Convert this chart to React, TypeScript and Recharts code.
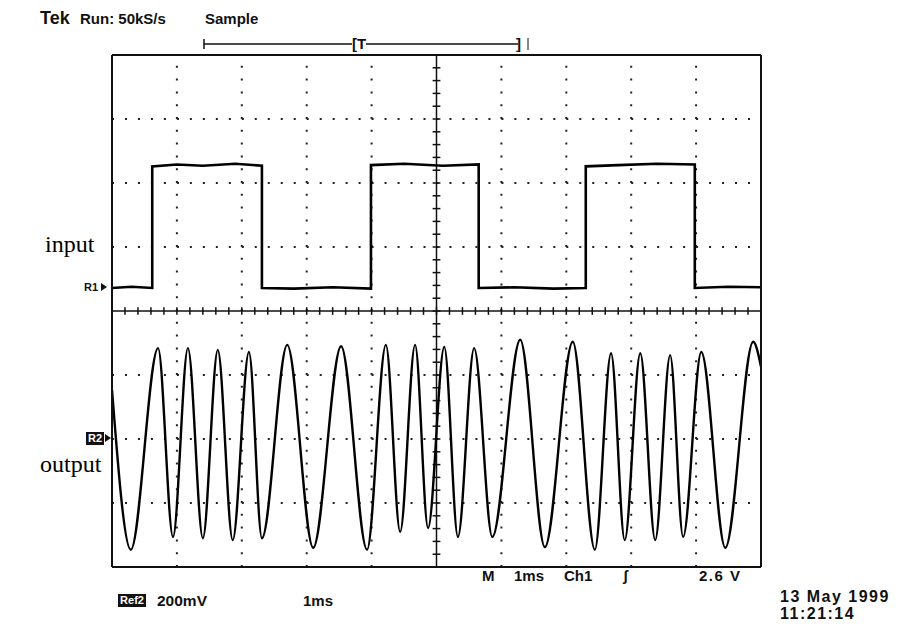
import React from 'react';
import { LineChart, Line, XAxis, YAxis, ReferenceLine } from 'recharts';

// screen: 10 horizontal divisions (1 ms each), 8 vertical divisions
const X_DIVS = [1, 2, 3, 4, 6, 7, 8, 9];
const Y_DIVS = [1, 2, 3, 5, 6, 7];
const MINOR_X = Array.from({ length: 51 }, (_, i) => Math.round(i * 20) / 100);
const MINOR_Y = Array.from({ length: 41 }, (_, i) => Math.round(i * 20) / 100);

// input (R1): square wave, time in ms / level in divisions
const INPUT_TIME = [0, 0.3, 0.62, 0.62, 1.0, 1.4, 1.9, 2.31, 2.31, 2.8, 3.4, 3.99, 3.99, 4.5, 5.1, 5.65, 5.65, 6.2, 6.8, 7.3, 7.3, 7.8, 8.4, 8.98, 8.98, 9.5, 10];
const INPUT_LEVEL = [4.36, 4.38, 4.36, 6.26, 6.29, 6.27, 6.3, 6.27, 4.36, 4.35, 4.37, 4.35, 6.28, 6.3, 6.27, 6.29, 4.36, 4.37, 4.35, 4.36, 6.26, 6.28, 6.3, 6.29, 4.36, 4.38, 4.37];

// output (R2): FSK waveform, peaks and troughs
const OUTPUT_TIME = [0, 0.29, 0.71, 0.94, 1.17, 1.4, 1.63, 1.86, 2.11, 2.31, 2.7, 3.1, 3.53, 3.93, 4.22, 4.44, 4.67, 4.87, 5.12, 5.33, 5.58, 5.86, 6.29, 6.67, 7.1, 7.44, 7.69, 7.9, 8.14, 8.37, 8.6, 8.8, 9.08, 9.45, 9.88, 10];
const OUTPUT_LEVEL = [2.77, 0.27, 3.42, 0.47, 3.42, 0.45, 3.39, 0.42, 3.36, 0.45, 3.47, 0.3, 3.45, 0.27, 3.47, 0.55, 3.47, 0.61, 3.44, 0.47, 3.42, 0.47, 3.55, 0.31, 3.52, 0.27, 3.34, 0.42, 3.34, 0.42, 3.31, 0.47, 3.36, 0.3, 3.52, 3.13];

const inputData = INPUT_TIME.map((t, i) => ({ t, v: INPUT_LEVEL[i] }));
const outputData = OUTPUT_TIME.map((t, i) => ({ t, v: OUTPUT_LEVEL[i] }));

const FONT = '"Liberation Sans", Arial, sans-serif';
const lbl = (left: number, top: number, size = 14, spacing = 0): React.CSSProperties => ({
  position: 'absolute', left, top, fontFamily: FONT, fontWeight: 700, fontSize: size, lineHeight: 1,
  color: '#111', whiteSpace: 'nowrap', letterSpacing: spacing
});
const boxed = (left: number, top: number, w: number): React.CSSProperties => ({
  ...lbl(left, top, 11), background: '#111', color: '#fff', width: w, height: 13, textAlign: 'center', lineHeight: '13px'
});

export default function App() {
  return (
    <div style={{ position: 'absolute', left: 0, top: 0, width: 911, height: 628, background: '#fff', overflow: 'hidden' }}>
      <LineChart width={911} height={628} margin={{ top: 55, left: 112, right: 150, bottom: 61 }}>
        <XAxis type="number" dataKey="t" domain={[0, 10]} ticks={MINOR_X} mirror tickSize={5} tick={false}
          axisLine={{ stroke: '#111', strokeWidth: 2 }} tickLine={{ stroke: '#111', strokeWidth: 1.5 }} allowDataOverflow />
        <XAxis xAxisId="top" orientation="top" type="number" dataKey="t" domain={[0, 10]} ticks={MINOR_X} mirror tickSize={5} tick={false}
          axisLine={{ stroke: '#111', strokeWidth: 2 }} tickLine={{ stroke: '#111', strokeWidth: 1.5 }} />
        <YAxis type="number" domain={[0, 8]} ticks={MINOR_Y} mirror tickSize={5} tick={false}
          axisLine={{ stroke: '#111', strokeWidth: 2 }} tickLine={{ stroke: '#111', strokeWidth: 1.5 }} allowDataOverflow />
        <YAxis yAxisId="right" orientation="right" type="number" domain={[0, 8]} ticks={MINOR_Y} mirror tickSize={5} tick={false}
          axisLine={{ stroke: '#111', strokeWidth: 2 }} tickLine={{ stroke: '#111', strokeWidth: 1.5 }} />

        {X_DIVS.map(x => (
          <ReferenceLine key={'gx' + x} x={x} stroke="#222" strokeWidth={2} strokeDasharray="2 10.8" />
        ))}
        {Y_DIVS.map(y => (
          <ReferenceLine key={'gy' + y} y={y} stroke="#222" strokeWidth={2} strokeDasharray="2 10.98" />
        ))}
        <ReferenceLine x={5} stroke="#111" strokeWidth={1.5} />
        <ReferenceLine y={4} stroke="#111" strokeWidth={1.5} />
        {MINOR_X.map(t => (
          <ReferenceLine key={'cx' + t} segment={[{ x: t, y: 3.94 }, { x: t, y: 4.06 }]} stroke="#111" strokeWidth={1.5} />
        ))}
        {MINOR_Y.map(t => (
          <ReferenceLine key={'cy' + t} segment={[{ x: 4.94, y: t }, { x: 5.06, y: t }]} stroke="#111" strokeWidth={1.5} />
        ))}

        <Line data={inputData} dataKey="v" type="linear" stroke="#000" strokeWidth={2.6} dot={false} isAnimationActive={false} />
        <Line data={outputData} dataKey="v" type="monotone" stroke="#000" strokeWidth={2.4} dot={false} isAnimationActive={false} />
      </LineChart>

      <div style={lbl(40, 9, 18)}>Tek</div>
      <div style={lbl(80, 11, 15)}>Run: 50kS/s</div>
      <div style={lbl(205, 11, 15)}>Sample</div>

      <svg width={911} height={628} style={{ position: 'absolute', left: 0, top: 0, pointerEvents: 'none' }}>
        <line x1={204} y1={44} x2={352} y2={44} stroke="#111" strokeWidth={1.5} />
        <line x1={366} y1={44} x2={518} y2={44} stroke="#111" strokeWidth={1.5} />
        <line x1={204} y1={39} x2={204} y2={49} stroke="#111" strokeWidth={1.5} />
        <line x1={528} y1={38} x2={528} y2={50} stroke="#111" strokeWidth={1} />
        <polygon points="101,283 107,287 101,291" fill="#111" />
        <polygon points="105,434 111,438 105,442" fill="#111" />
      </svg>
      <div style={lbl(352, 36, 15)}>[T</div>
      <div style={lbl(516, 36, 15)}>]</div>

      <div style={{ position: 'absolute', left: 45, top: 232, fontFamily: '"Liberation Serif", "Times New Roman", serif', fontSize: 24, lineHeight: 1 }}>input</div>
      <div style={{ position: 'absolute', left: 40, top: 452, fontFamily: '"Liberation Serif", "Times New Roman", serif', fontSize: 24, lineHeight: 1 }}>output</div>

      <div style={lbl(84, 282, 11)}>R1</div>
      <div style={boxed(86, 432, 18)}>R2</div>

      <div style={lbl(482, 568, 15)}>M</div>
      <div style={lbl(514, 568, 15)}>1ms</div>
      <div style={lbl(564, 568, 15)}>Ch1</div>
      <div style={lbl(623, 568, 15)}>ʃ</div>
      <div style={lbl(699, 568, 15, 1.5)}>2.6 V</div>

      <div style={boxed(118, 594, 28)}>Ref2</div>
      <div style={lbl(157, 593, 15.5)}>200mV</div>
      <div style={lbl(303, 593, 15)}>1ms</div>

      <div style={lbl(780, 589, 16, 1.5)}>13 May 1999</div>
      <div style={lbl(780, 606, 16, 1.5)}>11:21:14</div>
    </div>
  );
}
